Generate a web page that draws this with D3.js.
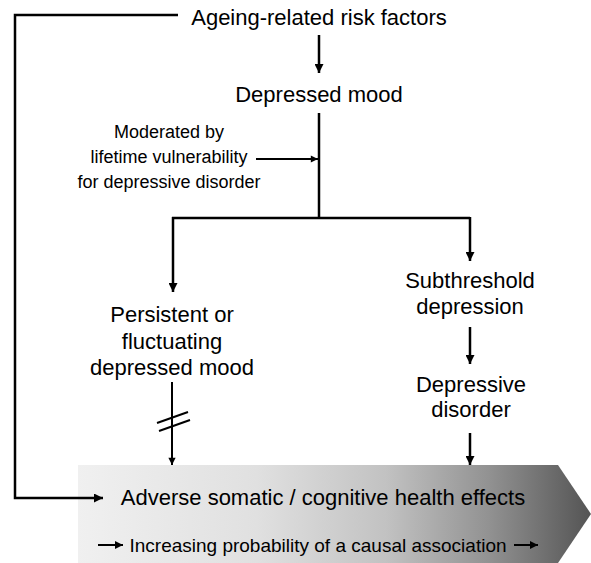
<!DOCTYPE html>
<html><head><meta charset="utf-8">
<script src="https://cdn.jsdelivr.net/npm/d3@7"></script>
<style>body{margin:0;background:#fff}svg{display:block}text{font-family:"Liberation Sans",Arial,sans-serif;fill:#000}</style>
</head><body><svg id="c" width="591" height="563"></svg>
<script>
const topLabel = ["Ageing-related risk factors"];
const moodLabel = ["Depressed mood"];
const moderatorLabel = ["Moderated by", "lifetime vulnerability", "for depressive disorder"];
const leftLabel = ["Persistent or", "fluctuating", "depressed mood"];
const subLabel = ["Subthreshold", "depression"];
const disorderLabel = ["Depressive", "disorder"];
const outcomeLabel = ["Adverse somatic / cognitive health effects"];
const probLabel = ["Increasing probability of a causal association"];

const svg = d3.select("#c");
const defs = svg.append("defs");
defs.append("marker").attr("id","ah").attr("viewBox","0 0 10 10").attr("refX",10).attr("refY",5)
  .attr("markerWidth",4.2).attr("markerHeight",3.6).attr("markerUnits","strokeWidth").attr("orient","auto")
  .append("path").attr("d","M0,0L10,5L0,10Z").attr("fill","#000");
defs.append("marker").attr("id","ahs").attr("viewBox","0 0 10 10").attr("refX",10).attr("refY",5)
  .attr("markerWidth",5).attr("markerHeight",4).attr("markerUnits","strokeWidth").attr("orient","auto")
  .append("path").attr("d","M0,0L10,5L0,10Z").attr("fill","#000");
const g = defs.append("linearGradient").attr("id","grad").attr("x1","0%").attr("x2","100%");
[[0,"#f0f0f0"],[0.35,"#e0e0e0"],[0.6,"#c2c2c2"],[0.8,"#929292"],[1,"#545454"]]
  .forEach(([o,c])=>g.append("stop").attr("offset",o).attr("stop-color",c));

// gradient chevron
svg.append("path").attr("d","M78,465L558,465L591,514L558,563L78,563Z").attr("fill","url(#grad)");

function lines(arr, x, y0, dy, size){
  svg.append("text").attr("font-size",size).attr("text-anchor","middle")
    .selectAll("tspan").data(arr).join("tspan").attr("x",x).attr("y",(d,i)=>y0+i*dy).text(d=>d);
}
lines(topLabel, 319, 25, 0, 22);
lines(moodLabel, 319, 102, 0, 22);
lines(moderatorLabel, 169, 138, 25, 18);
lines(leftLabel, 172, 322, 26.5, 22);
lines(subLabel, 470, 288, 26, 22);
lines(disorderLabel, 471, 392, 25, 22);
lines(outcomeLabel, 323, 505, 0, 22);
lines(probLabel, 318, 552, 0, 19);

const line = d3.line();
function draw(pts, arrow, sw){
  const p = svg.append("path").attr("d",line(pts)).attr("fill","none").attr("stroke","#000")
    .attr("stroke-width",sw||2.5).attr("stroke-linejoin","miter");
  if(arrow) p.attr("marker-end","url(#"+arrow+")");
}
draw([[319,35],[319,73]],"ah");
draw([[319,113],[319,218]]);
draw([[172,218],[470,218]]);
draw([[173,217],[173,292]],"ah");
draw([[470,217],[470,261]],"ah");
draw([[256,159],[318,159]],"ah",2);
draw([[470,327],[470,364]],"ah");
draw([[172,382],[172,465]],"ah",2);
draw([[470,433],[470,465]],"ah");
draw([[178,15],[15,15],[15,498],[103,498]],"ah");
// double slash
draw([[157,423],[188,412]],null,2);
draw([[159,431],[190,420]],null,2);
// small arrows in probability text
draw([[98,545],[123,545]],"ahs",2);
draw([[514,545],[538,545]],"ahs",2);
</script></body></html>
